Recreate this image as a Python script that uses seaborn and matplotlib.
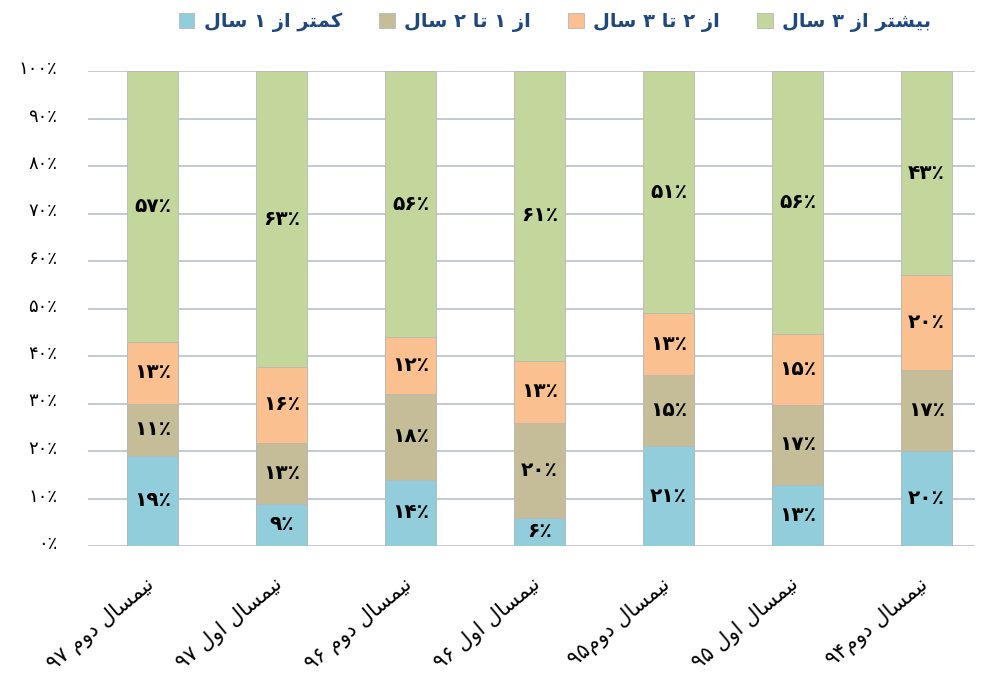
import matplotlib
matplotlib.use("Agg")
import matplotlib.pyplot as plt
import matplotlib.patches as mpatches
import matplotlib.transforms as mtransforms
import pandas as pd
import seaborn as sns
import re

# semesters, left to right
semesters = ['نیمسال دوم ۹۷', 'نیمسال اول ۹۷', 'نیمسال دوم ۹۶', 'نیمسال اول ۹۶',
             'نیمسال دوم۹۵', 'نیمسال اول ۹۵', 'نیمسال دوم۹۴']
series_names = ['کمتر از ۱ سال', 'از ۱ تا ۲ سال', 'از ۲ تا ۳ سال', 'بیشتر از ۳ سال']
less_1 = [19, 9, 14, 6, 21, 13, 20]
from_1_to_2 = [11, 13, 18, 20, 15, 17, 17]
from_2_to_3 = [13, 16, 12, 13, 13, 15, 20]
more_3 = [57, 63, 56, 61, 51, 56, 43]
y_ticks = [0, 10, 20, 30, 40, 50, 60, 70, 80, 90, 100]

colors = ['#92CDDC', '#C4BD97', '#FAC090', '#C3D69B']

# matplotlib has no arabic shaping, so pick the presentation forms by hand
FORMS = {
    'ب': (0xFE8F, 0xFE90, 0xFE91, 0xFE92),
    'ت': (0xFE95, 0xFE96, 0xFE97, 0xFE98),
    'ش': (0xFEB5, 0xFEB6, 0xFEB7, 0xFEB8),
    'س': (0xFEB1, 0xFEB2, 0xFEB3, 0xFEB4),
    'ل': (0xFEDD, 0xFEDE, 0xFEDF, 0xFEE0),
    'م': (0xFEE1, 0xFEE2, 0xFEE3, 0xFEE4),
    'ن': (0xFEE5, 0xFEE6, 0xFEE7, 0xFEE8),
    'ی': (0xFBFC, 0xFBFD, 0xFBFE, 0xFBFF),
    'ک': (0xFB8E, 0xFB8F, 0xFB90, 0xFB91),
    'ا': (0xFE8D, 0xFE8E),
    'ر': (0xFEAD, 0xFEAE),
    'ز': (0xFEAF, 0xFEB0),
    'و': (0xFEED, 0xFEEE),
    'د': (0xFEA9, 0xFEAA),
}


def fa(text):
    out = []
    for i, ch in enumerate(text):
        if ch not in FORMS:
            out.append(ch)
            continue
        prev = text[i - 1] if i > 0 else ''
        nxt = text[i + 1] if i + 1 < len(text) else ''
        join_prev = prev in FORMS and len(FORMS[prev]) == 4
        join_next = nxt in FORMS and len(FORMS[ch]) == 4
        if join_prev and join_next:
            k = 3
        elif join_prev:
            k = 1
        elif join_next:
            k = 2
        else:
            k = 0
        out.append(chr(FORMS[ch][k]))
    visual = ''.join(out)[::-1]
    # numbers stay left to right
    return re.sub('[۰-۹]+', lambda m: m.group(0)[::-1], visual)


def fa_num(n):
    return str(n).translate(str.maketrans('0123456789', '۰۱۲۳۴۵۶۷۸۹'))


df = pd.DataFrame({'semester': semesters, 's0': less_1, 's1': from_1_to_2,
                   's2': from_2_to_3, 's3': more_3})
cols = ['s0', 's1', 's2', 's3']
total = df[cols].sum(axis=1)
share = df[cols].div(total, axis=0) * 100
cum = share.cumsum(axis=1)
df['x'] = range(len(df))

fig = plt.figure(figsize=(9.84, 6.84), dpi=100)
ax = fig.add_axes([88 / 984, 138 / 684, 887 / 984, 475 / 684])

# draw the stacks from the top layer down so each one covers the rest
for i in reversed(range(4)):
    sns.barplot(x=df['x'], y=cum[cols[i]], color=colors[i], width=0.4,
                edgecolor='#B8B8B8', linewidth=0.6, saturation=1, ax=ax,
                zorder=3)

for i in range(4):
    mids = cum[cols[i]] - share[cols[i]] / 2
    for x, y, v in zip(df['x'], mids, df[cols[i]]):
        ax.text(x, y, fa_num(v) + '٪', ha='center', va='center',
                fontsize=14.5, fontweight='bold', color='black', zorder=4)

ax.set_xlim(-0.5, 6.376)
ax.set_ylim(0, 100)
ax.set_yticks(y_ticks)
ax.set_yticklabels([fa_num(t) + '٪' for t in y_ticks], fontsize=13)
ax.set_xticks(range(len(semesters)))
ax.set_xticklabels([fa(s) for s in semesters], rotation=40, ha='right',
                   va='top', rotation_mode='anchor', fontsize=15)
ax.tick_params(axis='both', length=0)
ax.tick_params(axis='y', pad=22)
ax.tick_params(axis='x', pad=20)
ax.set_xlabel('')
ax.set_ylabel('')

shift_x = mtransforms.ScaledTranslation(-8 / 100, 0, fig.dpi_scale_trans)
for lab in ax.get_xticklabels():
    lab.set_transform(lab.get_transform() + shift_x)
shift_y = mtransforms.ScaledTranslation(0, 4 / 100, fig.dpi_scale_trans)
for lab in ax.get_yticklabels():
    lab.set_transform(lab.get_transform() + shift_y)

ax.grid(axis='y', color='#B9C1CC', linewidth=1.2, zorder=0)
ax.set_axisbelow(True)
for s in ax.spines.values():
    s.set_visible(False)

handles = [mpatches.Patch(facecolor=c, edgecolor='#B8B8B8', linewidth=0.6) for c in colors]
fig.legend(handles, [fa(s) for s in series_names], ncol=4, loc='center',
           bbox_to_anchor=(555 / 984, 1 - 22 / 684), frameon=False,
           prop={'weight': 'bold', 'size': 14}, labelcolor='#1F497D',
           handlelength=0.8, handleheight=0.8, handletextpad=0.5,
           columnspacing=1.9)

fig.savefig('out.png', dpi=100)
